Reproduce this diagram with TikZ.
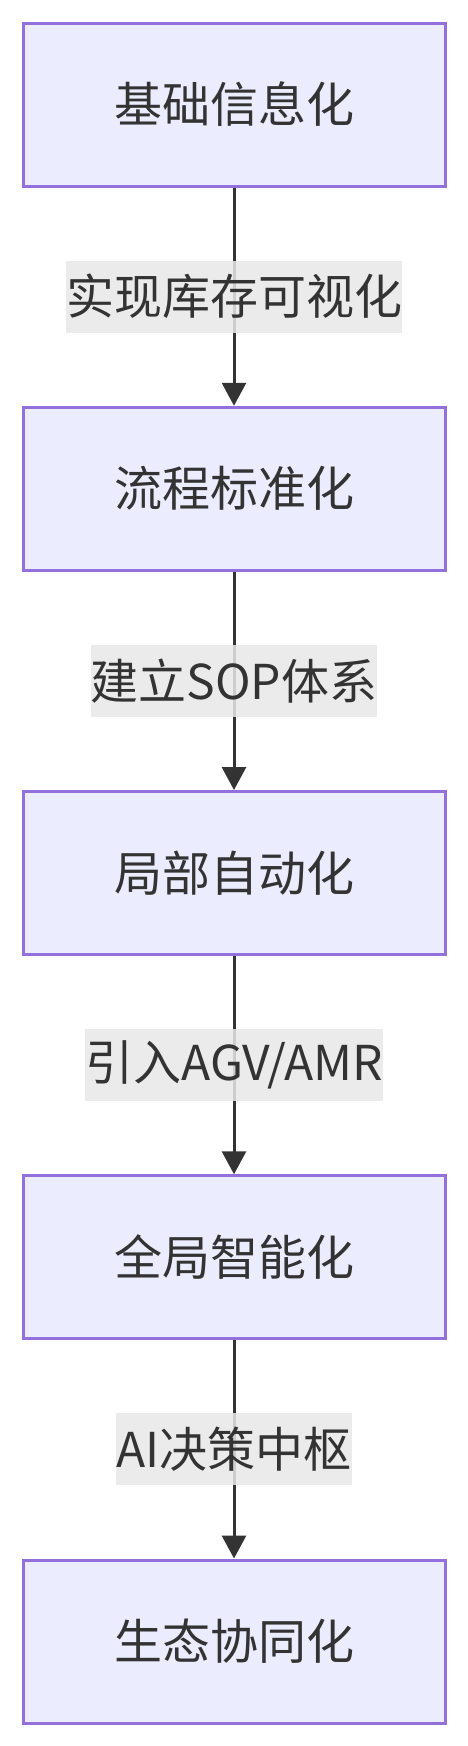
\documentclass[tikz,border=0pt]{standalone}
\usepackage{fontspec}
\setmainfont{Noto Sans CJK SC}
\usetikzlibrary{arrows.meta}
\definecolor{boxfill}{HTML}{ECECFF}
\definecolor{boxline}{HTML}{9370DB}
\definecolor{ink}{HTML}{333333}
\definecolor{lblfill}{HTML}{E8E8E8}

\begin{document}
\begin{tikzpicture}[->,>={Triangle[length=23pt,width=24pt]},node distance=384.25pt,line width=3pt,draw=ink]
	\tikzstyle{stage}=[rectangle,fill=boxfill,draw=boxline,line width=3pt,text=ink,minimum width=422pt,minimum height=163pt,font=\fontsize{48}{72}\selectfont]
	\tikzstyle{lbl}=[fill=lblfill,fill opacity=0.85,text opacity=1,text=ink,inner xsep=0pt,inner ysep=0pt,minimum height=72pt,font=\fontsize{48}{72}\selectfont]

	\useasboundingbox (0,0) rectangle (468pt,-1746pt);

	\node[stage] (S1) at (234pt,-104.5pt) {基础信息化};
	\node[stage] (S2) [below of=S1] {流程标准化};
	\node[stage] (S3) [below of=S2] {局部自动化};
	\node[stage] (S4) [below of=S3] {全局智能化};
	\node[stage] (S5) [below of=S4] {生态协同化};

	\path[draw=ink] (S1) edge node[lbl] {实现库存可视化} (S2);
	\path[draw=ink] (S2) edge node[lbl] {建立SOP体系} (S3);
	\path[draw=ink] (S3) edge node[lbl] {引入AGV/AMR} (S4);
	\path[draw=ink] (S4) edge node[lbl] {AI决策中枢} (S5);
\end{tikzpicture}
\end{document}
